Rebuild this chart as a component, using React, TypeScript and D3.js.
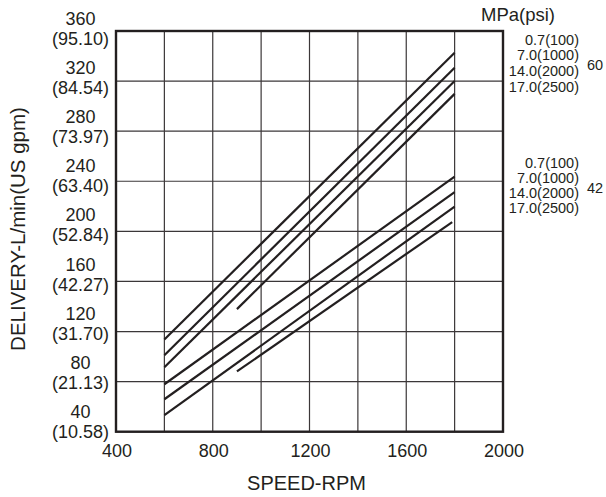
import React from "react";
import * as d3 from "d3";

// ---- data ----
const rpmTicks = [400, 800, 1200, 1600, 2000];
const rpmGrid = [400, 600, 800, 1000, 1200, 1400, 1600, 1800, 2000];
const flowTicks = [40, 80, 120, 160, 200, 240, 280, 320, 360];
const gpmLabels = ["(10.58)", "(21.13)", "(31.70)", "(42.27)", "(52.84)", "(63.40)", "(73.97)", "(84.54)", "(95.10)"];
const pressureLabels = ["0.7(100)", "7.0(1000)", "14.0(2000)", "17.0(2500)"];
const displacements = ["60", "42"];

// displacement 60 group (pressures 0.7, 7.0, 14.0, 17.0 MPa)
const g60StartRpm = [600, 600, 600, 900];
const g60StartFlow = [113.7, 101.1, 91.5, 137.9];
const g60EndRpm = [1800, 1800, 1800, 1800];
const g60EndFlow = [342.7, 330.7, 320.1, 309.8];

// displacement 42 group
const g42StartRpm = [600, 600, 600, 900];
const g42StartFlow = [77.9, 65.9, 53.2, 88.1];
const g42EndRpm = [1800, 1800, 1800, 1790];
const g42EndFlow = [243.7, 231.3, 219.8, 207.4];

const W = 606;
const H = 497;
const M = { left: 116, right: 503, top: 31, bottom: 431.7 };
const FONT = "'Liberation Sans', Arial, Helvetica, sans-serif";
const INK = "#231f20";

export default function App() {
  const x = d3.scaleLinear().domain([400, 2000]).range([M.left, M.right]);
  const y = d3.scaleLinear().domain([40, 360]).range([M.bottom, M.top]);
  // label baselines drift slightly from the gridlines in the original
  const yLab = d3.scaleLinear().domain([40, 360]).range([M.bottom - 13.5, M.top - 6.5]);

  const line = d3
    .line<[number, number]>()
    .x((d) => x(d[0]))
    .y((d) => y(d[1]));

  const groups = [
    { sr: g60StartRpm, sf: g60StartFlow, er: g60EndRpm, ef: g60EndFlow },
    { sr: g42StartRpm, sf: g42StartFlow, er: g42EndRpm, ef: g42EndFlow },
  ];

  const labelBlocks = [
    { base: 44.5, step: 15.8, disp: displacements[0], dispY: 70 },
    { base: 167.7, step: 15, disp: displacements[1], dispY: 193 },
  ];

  return (
    <svg
      width={W}
      height={H}
      style={{ position: "absolute", left: 0, top: 0, background: "#fff" }}
      fontFamily={FONT}
    >
      <rect x={0} y={0} width={W} height={H} fill="#fff" />
      {/* grid */}
      <g stroke="#3b3738" strokeWidth={1.2}>
        {rpmGrid.map((r) => (
          <line key={"v" + r} x1={x(r)} x2={x(r)} y1={M.top} y2={M.bottom} />
        ))}
        {flowTicks.map((f) => (
          <line key={"h" + f} x1={M.left} x2={M.right} y1={y(f)} y2={y(f)} />
        ))}
      </g>
      {/* frame */}
      <rect
        x={M.left}
        y={M.top}
        width={M.right - M.left}
        height={M.bottom - M.top}
        fill="none"
        stroke={INK}
        strokeWidth={2.4}
      />
      {/* curves */}
      <g fill="none" stroke={INK} strokeWidth={2.2}>
        {groups.map((g, gi) =>
          g.sr.map((_, i) => (
            <path
              key={gi + "-" + i}
              d={line([
                [g.sr[i], g.sf[i]],
                [g.er[i], g.ef[i]],
              ]) as string}
            />
          ))
        )}
      </g>
      {/* y tick labels */}
      <g fontSize={18} fill={INK} textAnchor="middle">
        {flowTicks.map((f, i) => (
          <g key={"yl" + f}>
            <text x={80.5} y={yLab(f)}>{f}</text>
            <text x={80.5} y={yLab(f) + 20}>{gpmLabels[i]}</text>
          </g>
        ))}
      </g>
      {/* x tick labels */}
      <g fontSize={18} fill={INK} textAnchor="middle">
        {rpmTicks.map((r) => (
          <text key={"xl" + r} x={x(r) + 1} y={456.5}>{r}</text>
        ))}
      </g>
      {/* axis titles */}
      <text x={(M.left + M.right) / 2 - 3} y={490} fontSize={20} fill={INK} textAnchor="middle">
        SPEED-RPM
      </text>
      <text
        transform={`translate(25,229) rotate(-90)`}
        fontSize={20.5}
        fill={INK}
        textAnchor="middle"
      >
        DELIVERY-L/min(US gpm)
      </text>
      {/* pressure legend */}
      <text x={555} y={21} fontSize={18.5} fill={INK} textAnchor="end">MPa(psi)</text>
      {labelBlocks.map((b, bi) => (
        <g key={"lb" + bi} fill={INK} fontSize={14.5}>
          {pressureLabels.map((p, i) => (
            <text key={p} x={579} y={b.base + i * b.step} textAnchor="end">{p}</text>
          ))}
          <text x={587} y={b.dispY} textAnchor="start">{b.disp}</text>
        </g>
      ))}
    </svg>
  );
}
